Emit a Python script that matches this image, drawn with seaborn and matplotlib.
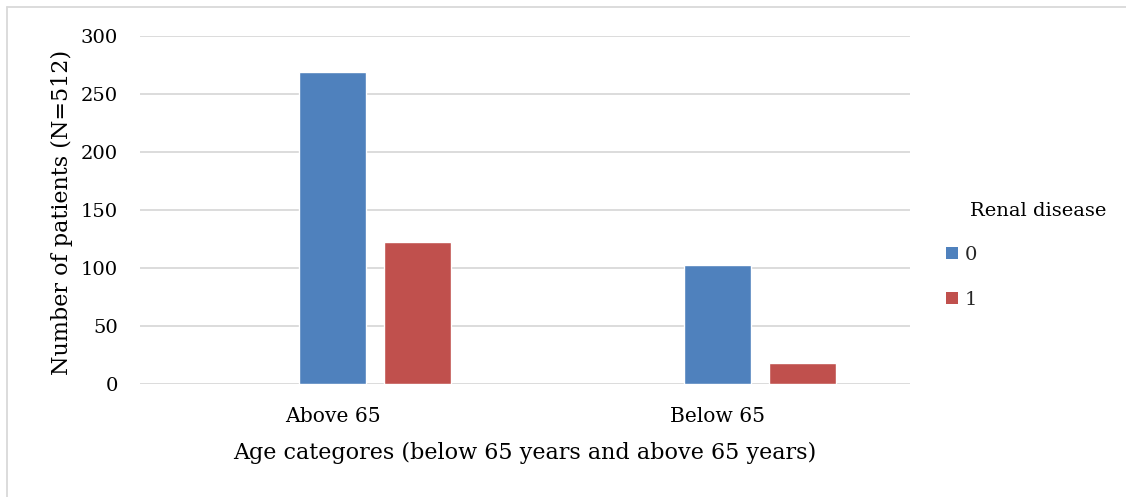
import matplotlib
matplotlib.use("Agg")
import matplotlib.pyplot as plt
import seaborn as sns
import pandas as pd
from matplotlib.patches import Patch
from matplotlib.lines import Line2D

# Patient counts by age group, split by renal disease status
age_groups = ["Above 65", "Below 65"]
renal_levels = ["0", "1"]
counts_no_renal = [269, 103]
counts_renal = [122, 18]
y_ticks = [0, 50, 100, 150, 200, 250, 300]

df = pd.DataFrame({
    "Age": age_groups * 2,
    "Renal": [renal_levels[0]] * 2 + [renal_levels[1]] * 2,
    "Count": counts_no_renal + counts_renal,
})

sns.set_theme(style="white")
plt.rcParams["font.family"] = ["DejaVu Serif"]

W, H = 1126, 497
fig = plt.figure(figsize=(W / 100, H / 100), dpi=100)
ax = fig.add_axes([140 / W, 1 - 384 / H, 770 / W, 348 / H])

colors = {"": (1, 1, 1, 0), "0": "#4F81BD", "1": "#C0504D"}
# an empty leading hue slot keeps the bars right of the group centre
sns.barplot(data=df, x="Age", y="Count", hue="Renal",
            hue_order=["", "0", "1"], palette=colors,
            width=0.6623, gap=0.21, dodge=True, saturation=1,
            errorbar=None, legend=False, ax=ax)

ax.set_xlim(-0.5, 1.5)
ax.set_ylim(0, 300)
ax.set_yticks(y_ticks)
ax.set_axisbelow(True)
ax.yaxis.grid(True, color="#D9D9D9", linewidth=1.3)
ax.xaxis.grid(False)
for s in ax.spines.values():
    s.set_visible(False)
ax.tick_params(axis="y", length=0, pad=16, labelsize=14, labelcolor="#000000")
ax.tick_params(axis="x", length=0, pad=16.5, labelsize=14.6, labelcolor="#000000")

ax.set_xlabel("Age categores (below 65 years and above 65 years)", fontsize=16, color="#000000")
ax.xaxis.set_label_coords(0.5, (384 - 442) / 348)
ax.set_ylabel("Number of patients (N=512)", fontsize=16, color="#000000")
ax.yaxis.set_label_coords((73 - 140) / 770, (384 - 212) / 348)

# legend
fig.text(970 / W, 1 - 211 / H, "Renal disease", fontsize=14, color="#000000",
         ha="left", va="center")
handles = [Patch(facecolor=colors[k], edgecolor="none") for k in renal_levels]
fig.legend(handles, renal_levels, loc="upper left",
           bbox_to_anchor=(946 / W, 1 - 246 / H), frameon=False,
           fontsize=14, handlelength=0.62, handleheight=0.62,
           handletextpad=0.36, labelspacing=1.38, borderpad=0, borderaxespad=0)

# outer chart frame (top and left edges)
fig.add_artist(Line2D([7 / W, 1], [1 - 7 / H] * 2, color="#D9D9D9", lw=1.3,
                      transform=fig.transFigure))
fig.add_artist(Line2D([7 / W] * 2, [0, 1 - 7 / H], color="#D9D9D9", lw=1.3,
                      transform=fig.transFigure))

fig.savefig("out.png", dpi=100, facecolor="white")
